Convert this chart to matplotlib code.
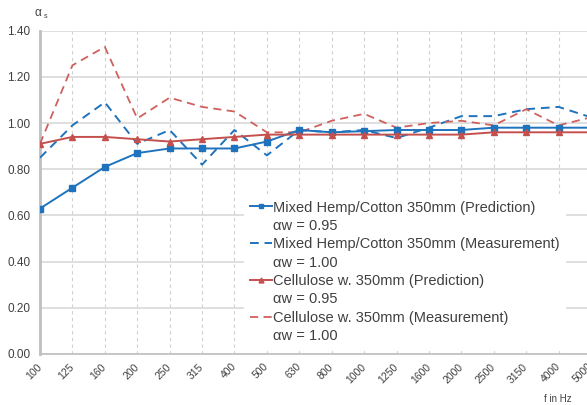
import matplotlib
matplotlib.use("Agg")
import matplotlib.pyplot as plt
from matplotlib.lines import Line2D

plt.rcParams['font.family'] = ['Liberation Sans', 'DejaVu Sans']

# third-octave band centre frequencies
freqs = ['100', '125', '160', '200', '250', '315', '400', '500', '630', '800',
         '1000', '1250', '1600', '2000', '2500', '3150', '4000', '5000']

hemp_pred = [0.63, 0.72, 0.81, 0.87, 0.89, 0.89, 0.89, 0.92, 0.97, 0.96,
             0.965, 0.97, 0.97, 0.97, 0.98, 0.98, 0.98, 0.98]
hemp_meas = [0.85, 0.99, 1.09, 0.91, 0.97, 0.82, 0.97, 0.86, 0.97, 0.96,
             0.97, 0.935, 0.98, 1.03, 1.03, 1.06, 1.07, 1.025]
cell_pred = [0.91, 0.94, 0.94, 0.93, 0.92, 0.93, 0.94, 0.95, 0.95, 0.95,
             0.95, 0.95, 0.95, 0.95, 0.96, 0.96, 0.96, 0.96]
cell_meas = [0.91, 1.25, 1.33, 1.02, 1.11, 1.07, 1.05, 0.96, 0.96, 1.01,
             1.04, 0.98, 1.00, 1.01, 0.99, 1.06, 0.99, 1.025]

names = ['Mixed Hemp/Cotton 350mm (Prediction)',
         'Mixed Hemp/Cotton 350mm (Measurement)',
         'Cellulose w. 350mm (Prediction)',
         'Cellulose w. 350mm (Measurement)']
ratings = ['αw = 0.95', 'αw = 1.00', 'αw = 0.95', 'αw = 1.00']

blue = '#1f73bd'
red = '#c4504d'
red_light = '#d0605d'
txt = '#404040'

fig = plt.figure(figsize=(5.87, 4.05), dpi=100)
W, H = 587, 405
ax = fig.add_axes([40 / W, (H - 354) / H, (591 - 40) / W, (354 - 30.7) / H])

x = list(range(len(freqs)))
l1, = ax.plot(x, hemp_pred, color=blue, lw=1.4, marker='s', ms=4, zorder=5)
l2, = ax.plot(x, hemp_meas, color=blue, lw=1.4, ls=(0, (4.5, 3)), zorder=4)
l3, = ax.plot(x, cell_pred, color=red, lw=1.4, marker='^', ms=5, zorder=5)
l4, = ax.plot(x, cell_meas, color=red_light, lw=1.3, ls=(0, (4.5, 3)), zorder=4)

ax.set_xlim(0, len(freqs) - 1)
ax.set_ylim(0, 1.4)
ax.set_yticks([0, 0.2, 0.4, 0.6, 0.8, 1.0, 1.2, 1.4])
ax.set_yticklabels([f'{v:.2f}' for v in ax.get_yticks()], fontsize=8.5, color=txt)
ax.set_xticks(x)
ax.set_xticklabels(freqs, rotation=45, ha='right', va='center',
                   rotation_mode='anchor', fontsize=7.5, color=txt)
ax.tick_params(axis='both', length=0)
ax.tick_params(axis='x', pad=8)
ax.tick_params(axis='y', pad=7)

ax.grid(axis='y', color='#d9d9d9', lw=1.2)
ax.grid(axis='x', color='#d0d0d0', lw=0.8, ls=(0, (3, 3)))
ax.set_axisbelow(True)
for side in ['top', 'right']:
    ax.spines[side].set_visible(False)
ax.spines['left'].set_color('#bfbfbf')
ax.spines['left'].set_linewidth(2)
ax.spines['bottom'].set_color('#bfbfbf')
ax.spines['bottom'].set_linewidth(1.2)

# each series takes two legend rows: name with handle, rating without
blank = Line2D([], [], ls='none')
handles, texts = [], []
for h, n, r in zip([l1, l2, l3, l4], names, ratings):
    handles += [h, blank]
    texts += [n, r]

leg = ax.legend(handles, texts, loc='upper left', bbox_to_anchor=(0.37, 0.495),
                frameon=True, fontsize=10.5, handlelength=1.45, handletextpad=0.1,
                labelspacing=0.3, borderpad=0.45, borderaxespad=0, framealpha=1,
                edgecolor='none', facecolor='white', markerscale=0.7)
for t in leg.get_texts():
    t.set_color(txt)

fig.text(38 / W, 1 - 13 / H, 'α', fontsize=8.5, color=txt, ha='center', va='center')
fig.text(43.5 / W, 1 - 16 / H, 's', fontsize=5, color=txt, ha='left', va='center')
fig.text(558 / W, 1 - 399 / H, 'f in Hz', fontsize=7, color=txt, ha='center', va='center')

fig.savefig('out.png', dpi=100)
